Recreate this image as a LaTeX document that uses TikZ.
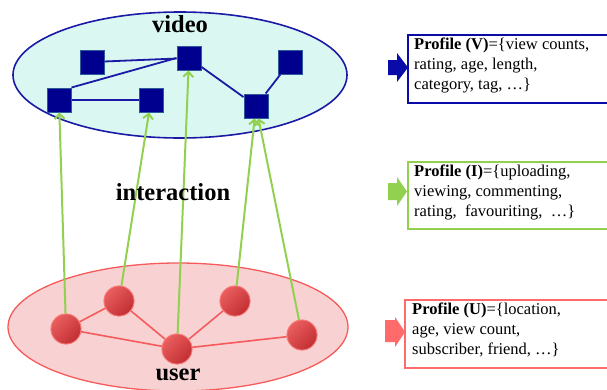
\documentclass[tikz,border=0pt]{standalone}
\usepackage{fontspec}
\setmainfont{Liberation Serif}
\usetikzlibrary{shapes.geometric,arrows.meta}
\definecolor{vfill}{HTML}{DAF8F1}
\definecolor{vline}{HTML}{1A1AA6}
\definecolor{vsqc}{HTML}{00008F}
\definecolor{vsqb}{HTML}{2A5A9A}
\definecolor{ufill}{HTML}{F8D2D3}
\definecolor{uline}{HTML}{F65A5A}
\definecolor{ucirc}{HTML}{E64242}
\definecolor{ucircd}{HTML}{C22E32}
\definecolor{gline}{HTML}{92D050}
\definecolor{pblue}{HTML}{0A0AA8}
\definecolor{pred}{HTML}{FF6B6B}
\definecolor{pgreen}{HTML}{92D050}
\begin{document}
\begin{tikzpicture}[x=1pt,y=-1pt,
  vsq/.style={draw=vsqb,line width=1pt,fill=vsqc,minimum size=24pt,inner sep=0pt},
  ucirc/.style={circle,draw=uline!80,line width=0.8pt,minimum size=30pt,inner sep=0pt,
     left color=ucirc!85!white,right color=ucircd,shading angle=45},
  vedge/.style={draw=vline,line width=1.8pt},
  uedge/.style={draw=uline,line width=1.6pt},
  garrow/.style={draw=gline,line width=2pt,-{Straight Barb[length=5pt,width=10pt]}},
  title/.style={font=\fontsize{24.5}{26}\selectfont\bfseries},
  ptext/.style={anchor=north west,align=left,inner sep=0pt,font=\fontsize{16.5}{20}\selectfont}
]
\useasboundingbox (0,0) rectangle (607,389);
\clip (0,0) rectangle (607,389);
% backgrounds
\node[ellipse,draw=vline,line width=1.6pt,fill=vfill,minimum width=334pt,minimum height=126pt] (vbg) at (180,75) {};
\node[ellipse,draw=uline,line width=1.3pt,fill=ufill,minimum width=340pt,minimum height=128pt] (ubg) at (178,327) {};
% video nodes
\node[vsq] (A) at (92,62) {};
\node[vsq] (B) at (189,58) {};
\node[vsq] (C) at (290,62) {};
\node[vsq] (D) at (59,100) {};
\node[vsq] (E) at (151,100) {};
\node[vsq] (F) at (256,106) {};
\draw[vedge] (A) -- (B);
\draw[vedge] (D.north east) -- (B.west);
\draw[vedge] (D) -- (E);
\draw[vedge] (B) -- (F);
\draw[vedge] (C) -- (F);
% user nodes
\node[ucirc] (U1) at (66,329) {};
\node[ucirc] (U2) at (119,301) {};
\node[ucirc] (U3) at (177,349) {};
\node[ucirc] (U4) at (235,301) {};
\node[ucirc] (U5) at (302,335) {};
\draw[uedge] (U1) -- (U2);
\draw[uedge] (U1) -- (U3);
\draw[uedge] (U2) -- (U3);
\draw[uedge] (U3) -- (U4);
\draw[uedge] (U3) -- (U5);
% redraw circles over edges
\node[ucirc] at (U1) {};
\node[ucirc] at (U2) {};
\node[ucirc] at (U3) {};
\node[ucirc] at (U4) {};
\node[ucirc] at (U5) {};
% interaction arrows
\draw[garrow] (U1) -- (D);
\draw[garrow] (U2) -- (E);
\draw[garrow] (U3) -- (B);
\draw[garrow] (U4) -- (F);
\draw[garrow] (U5) -- (F);
% titles
\node[title] (tv) at (180,24) {video};
\node[title] (ti) at (173,192) {interaction};
\node[title] (tu) at (178,375) {user};
% profile boxes
\draw[pblue,line width=1.6pt] (630,35) -- (408,35) -- (408,103) -- (630,103);
\node[ptext] (pv) at (414,38) {\textbf{Profile (V)}=\{view counts,\\rating, age, length,\\category, tag, …\}};
\fill[pblue] (388,60) -- (397,60) -- (397,53) -- (408,67.5) -- (397,82) -- (397,75) -- (388,75) -- cycle;

\draw[pgreen,line width=1.6pt] (630,162) -- (408,162) -- (408,229) -- (630,229);
\node[ptext] (pi) at (414,165) {\textbf{Profile (I)}=\{uploading,\\viewing, commenting,\\rating,\ \ favouriting,\ \ …\}};
\fill[pgreen] (388,183) -- (397,183) -- (397,177) -- (407,191.5) -- (397,206) -- (397,200) -- (388,200) -- cycle;

\draw[pred,line width=1.6pt] (630,300) -- (405,300) -- (405,368) -- (630,368);
\node[ptext] (pu) at (412,303) {\textbf{Profile (U)}=\{location,\\age, view count,\\subscriber, friend, …\}};
\fill[pred] (385,320) -- (395,320) -- (395,317) -- (405,332) -- (395,347) -- (395,342) -- (385,342) -- cycle;
\end{tikzpicture}
\end{document}
